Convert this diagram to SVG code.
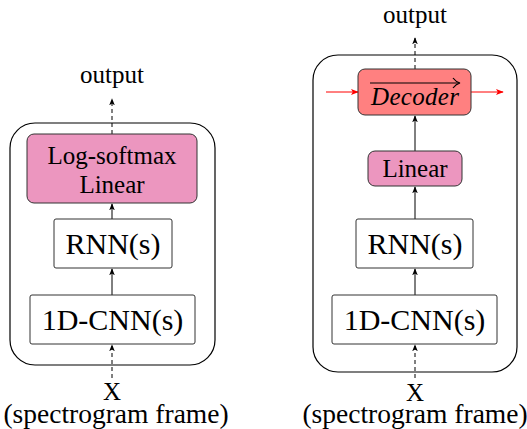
<svg xmlns="http://www.w3.org/2000/svg" width="527" height="429" viewBox="0 0 527 429">
<defs>
<style>
.t{font-family:'Liberation Serif','Times New Roman',serif;fill:#000;text-anchor:middle}
.outer{fill:none;stroke:#000;stroke-width:1.2}
.box{fill:#fff;stroke:#333;stroke-width:1}
.pink{fill:#EC96BF;stroke:#333;stroke-width:1}
.red{fill:#FF8080;stroke:#333;stroke-width:1}
.c{fill:none;stroke:#000;stroke-width:1}
.d{fill:none;stroke:#000;stroke-width:1;stroke-dasharray:4 3}
.r{fill:none;stroke:#FF0000;stroke-width:1}
</style>
<marker id="ah" viewBox="0 0 10 10" refX="9" refY="5" markerWidth="7" markerHeight="7" orient="auto" markerUnits="userSpaceOnUse">
<path d="M0,1 L10,5 L0,9 L2.5,5 Z" fill="#000"/>
</marker>
<marker id="ahr" viewBox="0 0 10 10" refX="9" refY="5" markerWidth="8" markerHeight="8" orient="auto" markerUnits="userSpaceOnUse">
<path d="M0,1 L10,5 L0,9 L2.5,5 Z" fill="#FF0000"/>
</marker>
</defs>

<g id="left-frame"><rect class="outer" x="10" y="123" width="205" height="242" rx="25"/></g>
<g id="right-frame"><rect class="outer" x="313" y="55" width="204" height="317" rx="25"/></g>

<g id="connectors">
<line class="d" x1="112" y1="134" x2="112" y2="99" marker-end="url(#ah)"/>
<line class="c" x1="112" y1="219" x2="112" y2="204" marker-end="url(#ah)"/>
<line class="c" x1="112" y1="295" x2="112" y2="269" marker-end="url(#ah)"/>
<line class="d" x1="112" y1="378" x2="112" y2="345" marker-end="url(#ah)"/>
<line class="d" x1="415" y1="69" x2="415" y2="38" marker-end="url(#ah)"/>
<line class="c" x1="415" y1="151" x2="415" y2="116" marker-end="url(#ah)"/>
<line class="c" x1="415" y1="219" x2="415" y2="187" marker-end="url(#ah)"/>
<line class="c" x1="415" y1="295" x2="415" y2="269" marker-end="url(#ah)"/>
<line class="d" x1="415" y1="378" x2="415" y2="345" marker-end="url(#ah)"/>
<line class="r" x1="326" y1="92" x2="358" y2="92" marker-end="url(#ahr)"/>
<line class="r" x1="471" y1="92" x2="503" y2="92" marker-end="url(#ahr)"/>
</g>

<g id="l-output"><text class="t" x="112" y="83" font-size="25">output</text></g>
<g id="l-logsoftmax"><rect class="pink" x="27" y="134" width="170" height="69" rx="7"/>
<text class="t" x="112" y="164" font-size="25">Log-softmax</text>
<text class="t" x="112" y="193" font-size="25">Linear</text></g>
<g id="l-rnn"><rect class="box" x="54" y="219" width="118" height="49" rx="2"/>
<text class="t" x="113" y="254" font-size="30">RNN(s)</text></g>
<g id="l-cnn"><rect class="box" x="30" y="295" width="165" height="49" rx="2"/>
<text class="t" x="112.5" y="330" font-size="30">1D-CNN(s)</text></g>
<g id="l-input"><text class="t" x="112" y="400" font-size="25">X</text>
<text class="t" x="116" y="423" font-size="27.5">(spectrogram frame)</text></g>

<g id="r-output"><text class="t" x="415" y="23" font-size="25">output</text></g>
<g id="r-decoder"><rect class="red" x="358" y="69" width="113" height="46" rx="7"/>
<line x1="370" y1="83" x2="459" y2="83" stroke="#000" stroke-width="1.2"/>
<path d="M453,78 Q456,82 460,83 Q456,84 453,88" fill="none" stroke="#000" stroke-width="1.2"/>
<text class="t" x="415" y="105" font-size="25" font-style="italic" textLength="88">Decoder</text></g>
<g id="r-linear"><rect class="pink" x="368" y="151" width="94" height="35" rx="7"/>
<text class="t" x="415" y="177" font-size="25">Linear</text></g>
<g id="r-rnn"><rect class="box" x="356" y="219" width="117" height="49" rx="2"/>
<text class="t" x="415" y="254" font-size="30">RNN(s)</text></g>
<g id="r-cnn"><rect class="box" x="332" y="295" width="165" height="49" rx="2"/>
<text class="t" x="414.5" y="330" font-size="30">1D-CNN(s)</text></g>
<g id="r-input"><text class="t" x="415" y="401" font-size="25">X</text>
<text class="t" x="415" y="423" font-size="27.5">(spectrogram frame)</text></g>
</svg>
